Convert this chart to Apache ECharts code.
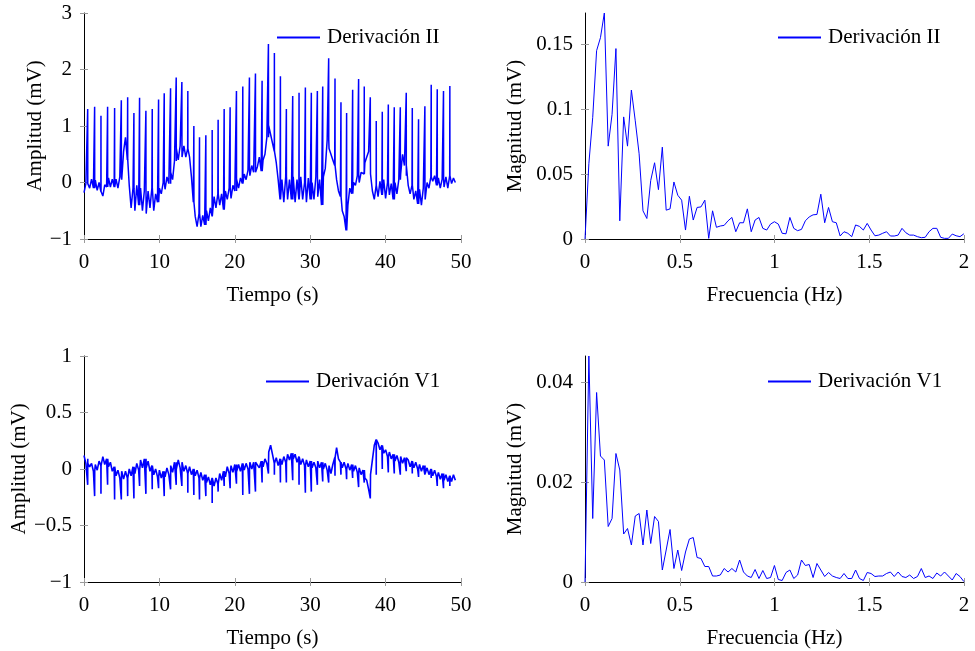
<!DOCTYPE html>
<html>
<head>
<meta charset="utf-8">
<script src="https://cdn.jsdelivr.net/npm/echarts@6/dist/echarts.min.js"></script>
<style>
  html, body { margin: 0; padding: 0; background: #fff; }
  #chart { width: 975px; height: 651px; }
</style>
</head>
<body>
<div id="chart"></div>
<script>
// ---- ECG recording: lead II and lead V1 (about 49 s) ----
// Baseline samples every 0.25 s (mV)
const traceStep = 0.25;

const leadIIBase = [
  -0.18,-0.02,0.06,-0.1, 0.06,-0.1,0.04,-0.14, 0.0,-0.16,-0.24,-0.04, -0.08,0.08,-0.08,0.06,
  -0.08,0.06,-0.1,0.1, 0.05,0.55,0.8,0.4, -0.05,-0.45,-0.1,-0.5, -0.05,-0.4,-0.1,-0.5,
  -0.15,-0.55,-0.15,-0.45, -0.1,-0.5,-0.2,-0.35, -0.1,-0.2,0.0,-0.12, 0.1,-0.02,0.18,0.05,
  0.38,0.6,0.4,0.65, 0.45,0.65,0.45,0.6, 0.45,0.1,-0.35,-0.6, -0.78,-0.55,-0.78,-0.58,
  -0.75,-0.5,-0.68,-0.45, -0.6,-0.25,-0.45,-0.2, -0.4,-0.2,-0.48,-0.15, -0.3,-0.1,-0.28,-0.05,
  -0.15,0.05,-0.1,0.08, -0.02,0.15,0.05,0.22, 0.12,0.3,0.18,0.38, 0.28,0.45,0.2,0.4,
  0.5,0.8,1.0,0.85, 0.85,0.55,0.35,0.05, -0.3,0.05,-0.35,0.1, -0.3,0.05,-0.3,0.1,
  -0.35,0.05,-0.3,0.1, -0.3,0.0,-0.35,0.08, -0.3,0.0,-0.3,0.1, -0.25,0.05,-0.4,0.1,
  0.25,0.75,0.6,0.6, 0.4,0.3,0.05,-0.15, -0.25,-0.5,-0.6,-0.85, -0.4,-0.1,-0.2,0.0,
  -0.05,0.12,0.0,0.18, 0.15,0.35,0.45,0.55, 0.15,-0.15,-0.3,-0.05, -0.25,0.02,-0.22,0.05,
  -0.28,0.0,-0.22,-0.02, -0.3,0.0,-0.2,0.05, 0.15,0.5,0.3,0.12, -0.05,-0.2,-0.05,-0.3,
  -0.15,-0.38,-0.12,-0.4, -0.1,-0.3,0.0,-0.1, 0.1,0.02,0.12,-0.05, 0.08,-0.1,0.06,-0.08,
  0.1,-0.1,0.12,-0.02, 0.08,0.0
];

const v1Base = [
  0.12,0.05,0.09,0.02, 0.05,-0.02,0.04,-0.01, 0.07,0.03,0.11,0.04, 0.09,0.02,0.06,-0.02,
  0.02,-0.06,-0.01,-0.08, -0.02,-0.09,-0.02,-0.08, 0.0,-0.06,0.02,-0.04, 0.05,-0.01,0.08,0.01,
  0.09,0.01,0.07,-0.02, 0.03,-0.05,0.0,-0.07, -0.01,-0.08,-0.02,-0.07, 0.01,-0.05,0.03,-0.03,
  0.06,0.0,0.08,0.01, 0.06,-0.02,0.03,-0.04, 0.02,-0.05,0.0,-0.06, -0.01,-0.08,-0.03,-0.1,
  -0.05,-0.12,-0.07,-0.14, -0.08,-0.15,-0.08,-0.13, -0.04,-0.1,-0.02,-0.07, 0.02,-0.04,0.03,-0.03,
  0.04,-0.02,0.04,-0.02, 0.05,-0.01,0.05,0.0, 0.06,0.0,0.06,0.01, 0.07,0.01,0.07,0.02,
  0.09,0.05,0.15,0.21, 0.13,0.05,0.1,0.03, 0.09,0.04,0.11,0.06, 0.13,0.08,0.14,0.09,
  0.13,0.06,0.11,0.04, 0.09,0.03,0.08,0.02, 0.07,0.01,0.06,0.01, 0.07,0.01,0.06,0.0,
  0.05,-0.01,0.03,-0.04, 0.04,0.1,0.19,0.09, 0.06,0.01,0.06,0.0, 0.05,-0.01,0.04,-0.02,
  0.03,-0.03,0.01,-0.05, -0.01,-0.08,-0.1,-0.18, -0.05,0.08,0.21,0.26, 0.23,0.17,0.21,0.14,
  0.17,0.11,0.15,0.09, 0.13,0.07,0.12,0.06, 0.11,0.05,0.1,0.04, 0.08,0.02,0.07,0.01,
  0.06,0.0,0.04,-0.02, 0.03,-0.04,0.01,-0.05, 0.0,-0.06,-0.01,-0.07, -0.03,-0.09,-0.04,-0.1,
  -0.05,-0.11,-0.06,-0.11, -0.05,-0.1
];

// QRS complexes: time (s), R peak in lead II (mV), QRS tip in lead V1 (mV)
const beatTimes = [
  0.49,1.41,2.25,3.13,4.06,4.95,5.79,6.62,7.37,8.21,9.05,9.89,10.64,11.48,12.23,12.98,13.77,14.57,15.32,16.16,
  17.0,17.79,18.59,19.38,20.22,21.06,21.94,22.74,23.62,24.46,25.25,26.05,26.84,27.68,28.52,29.36,30.15,30.95,31.66,32.45,
  33.29,34.08,34.83,35.63,36.42,37.17,37.97,38.76,39.56,40.36,41.15,41.95,42.74,43.54,44.37,45.21,46.05,46.85,47.68,48.52
];
const leadIIPeaks = [
  1.30,1.34,1.18,1.34,1.32,1.455,1.51,1.23,1.50,1.27,1.30,1.47,1.58,1.67,1.86,1.78,1.62,1.00,0.80,0.835,
  0.93,1.11,1.30,1.33,1.62,1.70,1.86,1.93,1.80,2.45,2.29,1.88,1.30,1.53,1.59,1.68,1.59,1.62,1.70,2.20,
  1.84,1.42,1.23,1.64,1.83,1.70,1.51,1.09,1.25,1.38,1.33,1.33,1.59,1.32,1.12,1.35,1.73,1.65,1.62,1.71
];
const v1Tips = [
  -0.14,-0.24,-0.22,-0.14,-0.27,-0.27,-0.24,-0.26,-0.15,-0.22,-0.18,-0.17,-0.24,-0.18,-0.14,-0.15,-0.21,-0.23,-0.27,-0.24,
  -0.3,-0.2,-0.15,-0.17,-0.13,-0.23,-0.22,-0.2,-0.12,-0.04,-0.05,-0.12,-0.12,-0.1,-0.14,-0.21,-0.2,-0.14,-0.11,-0.12,
  -0.06,-0.05,-0.09,-0.08,-0.16,-0.12,-0.26,-0.05,0.0,-0.03,-0.04,-0.05,-0.02,-0.04,-0.07,-0.05,-0.08,-0.15,-0.17,-0.15
];

// ---- Magnitude spectra (mV), uniform frequency bins ----
const specStep = 0.0204;
const leadIISpec = [
  0,0.058,0.0937,0.145,0.155,0.174,0.0715,0.096,0.1466,0.014,
  0.094,0.0715,0.1147,0.091,0.0656,0.0217,0.0158,0.045,0.0587,0.038,
  0.0707,0.0222,0.0232,0.0439,0.0337,0.0299,0.0069,0.0329,0.0146,0.0243,
  0.0247,0.0299,0.0005,0.0217,0.009,0.01,0.0105,0.014,0.0166,0.0056,
  0.0125,0.0125,0.0232,0.0056,0.0146,0.0166,0.0082,0.0069,0.0115,0.0133,
  0.0115,0.0044,0.004,0.0166,0.0082,0.0064,0.0074,0.014,0.017,0.0186,
  0.0189,0.0345,0.0125,0.0243,0.0133,0.0125,0.0023,0.0056,0.0044,0.0018,
  0.0108,0.0097,0.0069,0.012,0.0069,0.0025,0.003,0.0044,0.0056,0.0023,
  0.0023,0.003,0.0082,0.0048,0.003,0.003,0.0018,0.001,0.0013,0.0056,
  0.0082,0.0082,0.0013,0.0005,0.0005,0.0038,0.0025,0.0018,0.004
];
const v1Spec = [
  0,0.0452,0.0127,0.0379,0.0252,0.0244,0.0111,0.0127,0.0257,0.0224,
  0.0096,0.0107,0.0074,0.0132,0.0137,0.0074,0.0144,0.0077,0.0131,0.0121,
  0.0024,0.0064,0.0105,0.0027,0.0064,0.0023,0.006,0.0086,0.0089,0.0049,
  0.0047,0.0031,0.0031,0.0012,0.0012,0.0014,0.0027,0.002,0.0027,0.002,
  0.0044,0.002,0.0012,0.0009,0.0025,0.0007,0.0023,0.0007,0.0009,0.0033,
  0.0005,0.0003,0.0019,0.0024,0.0007,0.0014,0.0044,0.0033,0.0035,0.0009,
  0.0037,0.0024,0.0011,0.0019,0.0012,0.0009,0.0007,0.0017,0.0007,0.0007,
  0.0024,0.0007,0.0003,0.0019,0.0017,0.0011,0.0012,0.0012,0.0017,0.002,
  0.0011,0.002,0.0011,0.0009,0.0014,0.0007,0.0011,0.0027,0.0009,0.0012,
  0.0007,0.0018,0.0012,0.002,0.0012,0.0004,0.0017,0.0011,0.0001
];

// Axis ticks
const timeTicks = { min: 0, max: 50, interval: 10 };
const freqTicks = { min: 0, max: 2, interval: 0.5 };
const leadIIAmpTicks = { min: -1, max: 3, interval: 1 };
const v1AmpTicks = { min: -1, max: 1, interval: 0.5 };
const leadIIMagTicks = [0, 0.05, 0.1, 0.15];
const v1MagTicks = [0, 0.02, 0.04];

// Merge baseline samples with the QRS complexes into one time-ordered trace.
// Each QRS is a narrow spike that leaves from and returns to the last baseline sample.
function buildTrace(step, base, times, marks) {
  const pts = base.map((v, i) => [i * step, v]);
  times.forEach((t, k) => {
    const held = base[Math.floor(t / step)];
    pts.push([t - 0.012, held], [t, marks[k]], [t + 0.012, held]);
  });
  pts.sort((a, b) => a[0] - b[0]);
  return pts;
}
function buildSpectrum(step, mags) {
  return mags.map((v, i) => [i * step, v]);
}

const FONT = '"Liberation Serif", "DejaVu Serif", serif';
const textStyle = { fontFamily: FONT, fontSize: 21, color: '#000' };
const tickColor = '#9a9a9a';
const lineBlue = '#0000ff';
const fmt = v => (v < 0 ? '\u2212' + String(-v) : String(v));

function xPair(grid, ticks, name) {
  const base = { type: 'value', gridIndex: grid, position: 'bottom', min: ticks.min, max: ticks.max, interval: ticks.interval, splitLine: { show: false } };
  return [
    Object.assign({}, base, {
      name, nameLocation: 'middle', nameGap: 46, nameTextStyle: textStyle,
      axisLine: { show: true, onZero: false, lineStyle: { color: '#000', width: 1 } },
      axisTick: { show: true, inside: false, length: 4, lineStyle: { color: tickColor } },
      axisLabel: Object.assign({}, textStyle, { margin: 13, formatter: fmt })
    }),
    Object.assign({}, base, {
      axisLine: { show: false, onZero: false },
      axisTick: { show: true, inside: true, length: 4, lineStyle: { color: tickColor } },
      axisLabel: { show: false }
    })
  ];
}
function yPair(grid, min, max, interval, custom, name, gap) {
  const base = { type: 'value', gridIndex: grid, position: 'left', min, max, interval, splitLine: { show: false } };
  const tick = { show: true, length: 4, lineStyle: { color: tickColor } };
  const label = Object.assign({}, textStyle, { margin: 12, formatter: fmt });
  if (custom) { tick.customValues = custom; label.customValues = custom; }
  return [
    Object.assign({}, base, {
      name, nameLocation: 'middle', nameGap: gap, nameTextStyle: textStyle,
      axisLine: { show: true, onZero: false, lineStyle: { color: '#000', width: 1 } },
      axisTick: Object.assign({}, tick, { inside: false }),
      axisLabel: label
    }),
    Object.assign({}, base, {
      axisLine: { show: false, onZero: false },
      axisTick: Object.assign({}, tick, { inside: true }),
      axisLabel: { show: false }
    })
  ];
}

const leadIIMagMax = Math.max(...leadIISpec);
const v1MagMax = Math.max(...v1Spec);

const xAxes = [].concat(
  xPair(0, timeTicks, 'Tiempo (s)'),
  xPair(1, freqTicks, 'Frecuencia (Hz)'),
  xPair(2, timeTicks, 'Tiempo (s)'),
  xPair(3, freqTicks, 'Frecuencia (Hz)')
);
const yAxes = [].concat(
  yPair(0, leadIIAmpTicks.min, leadIIAmpTicks.max, leadIIAmpTicks.interval, null, 'Amplitud (mV)', 38),
  yPair(1, 0, leadIIMagMax, 0.05, leadIIMagTicks, 'Magnitud (mV)', 59),
  yPair(2, v1AmpTicks.min, v1AmpTicks.max, v1AmpTicks.interval, null, 'Amplitud (mV)', 38),
  yPair(3, 0, v1MagMax, 0.02, v1MagTicks, 'Magnitud (mV)', 59)
);

function lineSeries(name, idx, data, width) {
  return {
    type: 'line', name, xAxisIndex: idx * 2, yAxisIndex: idx * 2, data,
    showSymbol: false, symbol: 'none', animation: false,
    lineStyle: { color: lineBlue, width },
    itemStyle: { color: lineBlue }
  };
}

// Legend sample drawn as a short horizontal blue stroke
function legendAt(left, top, name) {
  return {
    left, top, data: [name], selectedMode: false,
    icon: 'rect', itemWidth: 43, itemHeight: 2, itemGap: 0,
    itemStyle: { color: lineBlue, borderWidth: 0, opacity: 1 },
    padding: 0, textStyle: Object.assign({}, textStyle, { padding: [0, 0, 0, 2] })
  };
}

const chart = echarts.init(document.getElementById('chart'), null, { renderer: 'canvas' });
chart.setOption({
  backgroundColor: '#fff',
  animation: false,
  grid: [
    { left: 84, top: 13, width: 377, height: 226 },
    { left: 585, top: 13, width: 379, height: 226 },
    { left: 84, top: 356, width: 377, height: 226 },
    { left: 585, top: 356, width: 379, height: 226 }
  ],
  xAxis: xAxes,
  yAxis: yAxes,
  legend: [
    legendAt(277, 27, 'Derivación II'),
    legendAt(778, 27, 'Derivación II'),
    legendAt(266, 371, 'Derivación V1'),
    legendAt(768, 371, 'Derivación V1')
  ],
  series: [
    lineSeries('Derivación II', 0, buildTrace(traceStep, leadIIBase, beatTimes, leadIIPeaks), 1.5),
    lineSeries('Derivación II', 1, buildSpectrum(specStep, leadIISpec), 1),
    lineSeries('Derivación V1', 2, buildTrace(traceStep, v1Base, beatTimes, v1Tips), 1.6),
    lineSeries('Derivación V1', 3, buildSpectrum(specStep, v1Spec), 1)
  ]
});
</script>
</body>
</html>
